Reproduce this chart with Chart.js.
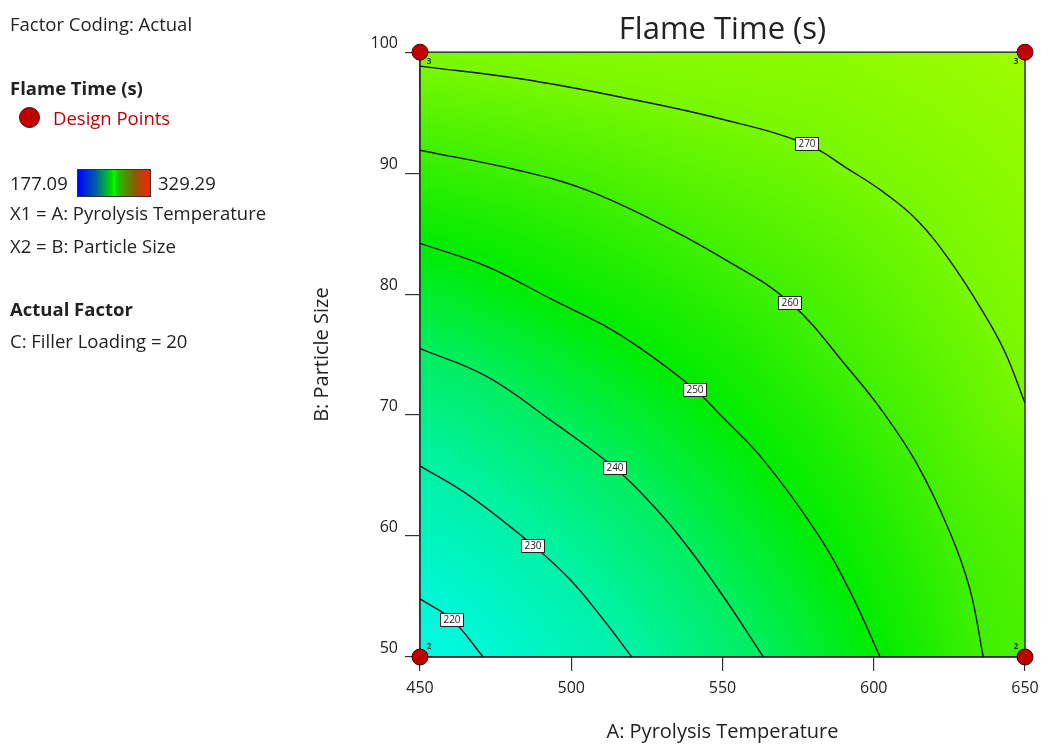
<!DOCTYPE html>
<html>
<head>
<meta charset="utf-8">
<script src="https://cdn.jsdelivr.net/npm/chart.js@4.4.1/dist/chart.umd.min.js"></script>
<style>
  body { margin: 0; background: #fff; font-family: "Open Sans", sans-serif; }
  #wrap { position: relative; width: 1041px; height: 744px; overflow: hidden; }
  #grafico { position: absolute; left: 0; top: 0; }
  .txt { position: absolute; left: 10px; font-size: 18.5px; line-height: 22px; color: #222; white-space: nowrap; }
  .neg { font-weight: bold; }
  #punto { position: absolute; left: 19px; top: 107px; width: 21px; height: 21px; border-radius: 50%;
           background: #c00000; border: 1px solid #4a0000; box-sizing: border-box; }
  #barra { position: absolute; left: 77px; top: 169px; width: 72px; height: 26px; border: 1px solid #333;
           background: linear-gradient(to right, #0000ff, #0060a0 25%, #00e000 47%, #00ff00 50%, #20c000 56%, #806000 78%, #ff2000); }
</style>
</head>
<body>
<div id="wrap">
  <canvas id="grafico" width="1041" height="744"></canvas>
  <div class="txt" style="top:13px">Factor Coding: Actual</div>
  <div class="txt neg" style="top:77px">Flame Time (s)</div>
  <div id="punto"></div>
  <div class="txt" style="top:107px; left:53px; color:#c00000">Design Points</div>
  <div class="txt" style="top:172px">177.09</div>
  <div id="barra"></div>
  <div class="txt" style="top:172px; left:158px">329.29</div>
  <div class="txt" style="top:202px">X1 = A: Pyrolysis Temperature</div>
  <div class="txt" style="top:235px">X2 = B: Particle Size</div>
  <div class="txt neg" style="top:298px">Actual Factor</div>
  <div class="txt" style="top:330px">C: Filler Loading = 20</div>
</div>
<script>
// --- DATOS ---
const niveles = [220, 230, 240, 250, 260, 270];

// curvas de nivel: A (temperatura) y B (tamaño de partícula)
const c220x = [450, 460.5, 470.9];
const c220y = [54.8, 53.1, 50];
const c230x = [450, 466.5, 487.5, 499.6, 510.6, 520.0];
const c230y = [65.8, 63.3, 59.2, 56.4, 53.1, 50];
const c240x = [450, 472.0, 493.0, 514.5, 527.1, 538.2, 550.3, 563.5];
const c240y = [75.5, 73.2, 69.6, 65.6, 62.5, 59.2, 55.0, 50];
const c250x = [450, 472.0, 494.1, 510.5, 522.7, 540.9, 550.3, 563.5, 581.1, 592.1, 602.1];
const c250y = [84.2, 82.3, 79.5, 77.45, 75.55, 72.1, 69.75, 66.3, 60.3, 55.45, 50];
const c260x = [450, 483.1, 505.1, 527.1, 549.2, 572.3, 592.1, 603.2, 614.2, 625.2, 631.8, 636.2];
const c260y = [91.9, 90.2, 88.6, 86.1, 83.1, 79.3, 73.7, 70.2, 66.0, 60.3, 55.6, 50];
const c270x = [450, 483.1, 516.1, 549.2, 577.8, 592.1, 603.1, 614.2, 625.2, 636.2, 643.4, 650];
const c270y = [98.85, 97.8, 96.3, 94.5, 92.4, 90.25, 88.45, 86.15, 82.75, 78.5, 75.2, 71.0];
const curvasX = [c220x, c230x, c240x, c250x, c260x, c270x];
const curvasY = [c220y, c230y, c240y, c250y, c260y, c270y];

// posición de las etiquetas de cada nivel
const etiquetaX = [460.5, 487.5, 514.5, 540.9, 572.3, 577.8];
const etiquetaY = [53.1, 59.2, 65.6, 72.1, 79.3, 92.4];

// puntos de diseño (esquinas) y número de réplicas
const disenoX = [450, 650, 450, 650];
const disenoY = [100, 100, 50, 50];
const disenoN = ['3', '3', '2', '2'];

// escala de color usada en el fondo
const mapaV = [205, 220, 230, 240, 250, 260, 270, 290];
const mapaC = ['#00fff4', '#00f8d8', '#00f2a8', '#00ee60', '#00ec00', '#40f000', '#78f800', '#b4ff00'];

Chart.defaults.font.family = '"Open Sans", sans-serif';
Chart.defaults.color = '#222';

function hexRgb(h) {
    return [parseInt(h.slice(1, 3), 16), parseInt(h.slice(3, 5), 16), parseInt(h.slice(5, 7), 16)];
}
const mapaRgb = mapaC.map(hexRgb);

function colorDe(v) {
    if (v <= mapaV[0]) return mapaRgb[0];
    for (let i = 1; i < mapaV.length; i++) {
        if (v <= mapaV[i]) {
            const t = (v - mapaV[i - 1]) / (mapaV[i] - mapaV[i - 1]);
            const a = mapaRgb[i - 1], b = mapaRgb[i];
            return [a[0] + (b[0] - a[0]) * t, a[1] + (b[1] - a[1]) * t, a[2] + (b[2] - a[2]) * t];
        }
    }
    return mapaRgb[mapaRgb.length - 1];
}

// distancia con signo a una curva (positiva hacia valores mayores, arriba a la derecha)
function distFirmada(px, py, L) {
    let dmin = Infinity, signo = 1;
    for (let s = 0; s < L.length - 1; s++) {
        const ax = L[s][0], ay = L[s][1];
        const dx = L[s + 1][0] - ax, dy = L[s + 1][1] - ay;
        let t = ((px - ax) * dx + (py - ay) * dy) / (dx * dx + dy * dy);
        t = Math.max(0, Math.min(1, t));
        const ex = px - (ax + t * dx), ey = py - (ay + t * dy);
        const d = ex * ex + ey * ey;
        if (d < dmin) {
            dmin = d;
            signo = (dx * (py - ay) - dy * (px - ax)) < 0 ? 1 : -1;
        }
    }
    return signo * Math.sqrt(dmin);
}

function valorEn(px, py, lineas) {
    const sd = lineas.map(L => distFirmada(px, py, L));
    const n = sd.length;
    let v;
    if (sd[0] <= 0) {
        const g = Math.max(sd[0] - sd[1], 20);
        v = niveles[0] + (niveles[1] - niveles[0]) * sd[0] / g;
    } else if (sd[n - 1] >= 0) {
        const g = Math.max(sd[n - 2] - sd[n - 1], 20);
        v = niveles[n - 1] + (niveles[n - 1] - niveles[n - 2]) * sd[n - 1] / g;
    } else {
        v = niveles[0];
        for (let k = n - 2; k >= 0; k--) {
            if (sd[k] >= 0 && sd[k + 1] < 0) {
                v = niveles[k] + (niveles[k + 1] - niveles[k]) * sd[k] / (sd[k] - sd[k + 1]);
                break;
            }
        }
    }
    return Math.max(200, Math.min(295, v));
}

// --- FONDO: interpolación entre las curvas de nivel ---
function crearFondo(chart) {
    const { left, top, right, bottom } = chart.chartArea;
    const sx = chart.scales.x, sy = chart.scales.y;
    const paso = 2;
    const W = Math.ceil((right - left) / paso) + 1;
    const H = Math.ceil((bottom - top) / paso) + 1;
    const lineas = curvasX.map((xs, k) => xs.map((x, i) => [sx.getPixelForValue(x), sy.getPixelForValue(curvasY[k][i])]));

    const off = document.createElement('canvas');
    off.width = W; off.height = H;
    const octx = off.getContext('2d');
    const img = octx.createImageData(W, H);
    for (let j = 0; j < H; j++) {
        for (let i = 0; i < W; i++) {
            const c = colorDe(valorEn(left + i * paso, top + j * paso, lineas));
            const p = (j * W + i) * 4;
            img.data[p] = c[0]; img.data[p + 1] = c[1]; img.data[p + 2] = c[2]; img.data[p + 3] = 255;
        }
    }
    octx.putImageData(img, 0, 0);
    return { off, W, H, paso };
}

const pluginContorno = {
    id: 'contorno',
    beforeDraw(chart) {
        const ctx = chart.ctx;
        const a = chart.chartArea;
        if (!chart.$fondo) chart.$fondo = crearFondo(chart);
        const f = chart.$fondo;
        ctx.save();
        ctx.beginPath();
        ctx.rect(a.left, a.top, a.right - a.left, a.bottom - a.top);
        ctx.clip();
        ctx.imageSmoothingEnabled = true;
        ctx.drawImage(f.off, 0, 0, f.W, f.H, a.left - f.paso / 2, a.top - f.paso / 2, f.W * f.paso, f.H * f.paso);
        ctx.restore();
    },
    beforeDatasetsDraw(chart) {
        const ctx = chart.ctx;
        const a = chart.chartArea;
        ctx.save();
        ctx.strokeStyle = '#333';
        ctx.lineWidth = 1.5;
        ctx.strokeRect(a.left, a.top, a.right - a.left, a.bottom - a.top);
        ctx.restore();
    },
    afterDatasetsDraw(chart) {
        const ctx = chart.ctx;
        const sx = chart.scales.x, sy = chart.scales.y;
        ctx.save();
        // etiquetas de nivel
        ctx.font = '10px "Open Sans", sans-serif';
        ctx.textAlign = 'center';
        ctx.textBaseline = 'middle';
        niveles.forEach((n, k) => {
            const x = Math.round(sx.getPixelForValue(etiquetaX[k]));
            const y = Math.round(sy.getPixelForValue(etiquetaY[k]));
            ctx.fillStyle = '#fff';
            ctx.fillRect(x - 11, y - 6, 23, 13);
            ctx.strokeStyle = '#222';
            ctx.lineWidth = 1;
            ctx.strokeRect(x - 11.5, y - 6.5, 23, 13);
            ctx.fillStyle = '#222';
            ctx.fillText(String(n), x, y + 0.5);
        });
        // réplicas de los puntos de diseño
        ctx.font = 'bold 8px "Open Sans", sans-serif';
        ctx.fillStyle = '#333';
        disenoX.forEach((xv, i) => {
            const x = sx.getPixelForValue(xv), y = sy.getPixelForValue(disenoY[i]);
            const dx = xv === sx.min ? 9 : -9;
            const dy = disenoY[i] === sy.max ? 10 : -10;
            ctx.fillText(disenoN[i], x + dx, y + dy);
        });
        ctx.restore();
    }
};

const datasets = curvasX.map((xs, k) => ({
    label: String(niveles[k]),
    data: xs.map((x, i) => ({ x: x, y: curvasY[k][i] })),
    showLine: true,
    borderColor: '#141414',
    borderWidth: 1.4,
    pointRadius: 0,
    tension: 0.4,
    fill: false
}));
datasets.push({
    label: 'Design Points',
    data: disenoX.map((x, i) => ({ x: x, y: disenoY[i] })),
    showLine: false,
    pointRadius: 8,
    pointBackgroundColor: '#c00000',
    pointBorderColor: '#4a0000',
    pointBorderWidth: 1,
    clip: false
});

new Chart(document.getElementById('grafico'), {
    type: 'scatter',
    data: { datasets: datasets },
    options: {
        responsive: false,
        animation: false,
        events: [],
        layout: { padding: { left: 300, right: 16, top: 0, bottom: 0 } },
        plugins: {
            legend: { display: false },
            tooltip: { enabled: false },
            title: {
                display: true,
                text: 'Flame Time (s)',
                fullSize: false,
                color: '#222',
                font: { size: 31, weight: 'normal' },
                padding: { top: 12, bottom: 3 }
            }
        },
        scales: {
            x: {
                type: 'linear', min: 450, max: 650,
                ticks: { stepSize: 50, font: { size: 16 }, color: '#222', padding: 8 },
                grid: { drawOnChartArea: false, tickLength: 14, color: '#333', lineWidth: 1.2 },
                border: { color: '#333', width: 1.5 },
                title: { display: true, text: 'A: Pyrolysis Temperature', font: { size: 20 }, color: '#222', padding: 0 },
                afterFit: s => { s.height = 87; s.paddingLeft = 0; s.paddingRight = 0; }
            },
            y: {
                type: 'linear', min: 50, max: 100,
                ticks: { stepSize: 10, font: { size: 16 }, color: '#222', padding: 7, labelOffset: -9 },
                grid: { drawOnChartArea: false, tickLength: 15, color: '#333', lineWidth: 1.2 },
                border: { color: '#333', width: 1.5 },
                title: { display: true, text: 'B: Particle Size', font: { size: 20 }, color: '#222', padding: { top: 10, bottom: 0 } },
                afterFit: s => { s.width = 120; s.paddingTop = 0; s.paddingBottom = 0; }
            }
        }
    },
    plugins: [pluginContorno]
});
</script>
</body>
</html>
